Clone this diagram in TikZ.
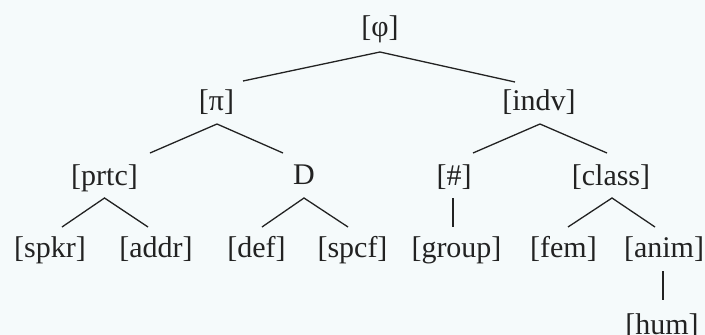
\documentclass[tikz,border=0pt]{standalone}
\usepackage{fontspec}
\setmainfont{Liberation Serif}
\definecolor{bgc}{HTML}{F5FAFB}
\definecolor{ink}{HTML}{222222}
\begin{document}
\begin{tikzpicture}[x=1pt,y=-1pt,
  lab/.style={anchor=base,inner sep=0pt,text=ink,font=\fontsize{30}{36}\selectfont},
  edge/.style={draw=ink,line width=1.3pt}]
\fill[bgc] (0,0) rectangle (705,335);
\useasboundingbox (0,0) rectangle (705,335);
% nodes
\node[lab] (phi) at (380,36.5) {[φ]};
\node[lab] (pi) at (216.5,110.5) {[π]};
\node[lab] (indv) at (539,110.5) {[indv]};
\node[lab] (prtc) at (104.5,185) {[prtc]};
\node[lab] (D) at (304,184) {D};
\node[lab] (hash) at (454,185) {[\#]};
\node[lab] (class) at (611,185) {[class]};
\node[lab] (spkr) at (50,257.5) {[spkr]};
\node[lab] (addr) at (156,257.5) {[addr]};
\node[lab] (def) at (256.5,257.5) {[def]};
\node[lab] (spcf) at (352.5,257.5) {[spcf]};
\node[lab] (group) at (456.5,257.5) {[group]};
\node[lab] (fem) at (563.5,257.5) {[fem]};
\node[lab] (anim) at (664,257.5) {[anim]};
\node[lab] (hum) at (662,334.5) {[hum]};
% connector points
\coordinate (phi-b) at (380,52);
\coordinate (pi-t) at (243,81);
\coordinate (indv-t) at (515,82);
\coordinate (pi-b) at (217,124);
\coordinate (prtc-t) at (150,153);
\coordinate (D-t) at (283,153);
\coordinate (indv-b) at (540,124);
\coordinate (hash-t) at (473,153);
\coordinate (class-t) at (607,153);
\coordinate (prtc-b) at (104.5,198);
\coordinate (spkr-t) at (62,227);
\coordinate (addr-t) at (148,227);
\coordinate (D-b) at (304,198);
\coordinate (def-t) at (262,227);
\coordinate (spcf-t) at (348,227);
\coordinate (hash-b) at (453,198);
\coordinate (group-t) at (453,227);
\coordinate (class-b) at (612,198);
\coordinate (fem-t) at (568,227);
\coordinate (anim-t) at (655,227);
\coordinate (anim-b) at (663,271);
\coordinate (hum-t) at (663,300);
% connectors
\draw[edge] (pi-t) -- (phi-b) -- (indv-t);
\draw[edge] (prtc-t) -- (pi-b) -- (D-t);
\draw[edge] (hash-t) -- (indv-b) -- (class-t);
\draw[edge] (spkr-t) -- (prtc-b) -- (addr-t);
\draw[edge] (def-t) -- (D-b) -- (spcf-t);
\draw[edge] (hash-b) -- (group-t);
\draw[edge] (fem-t) -- (class-b) -- (anim-t);
\draw[edge] (anim-b) -- (hum-t);
\end{tikzpicture}
\end{document}
